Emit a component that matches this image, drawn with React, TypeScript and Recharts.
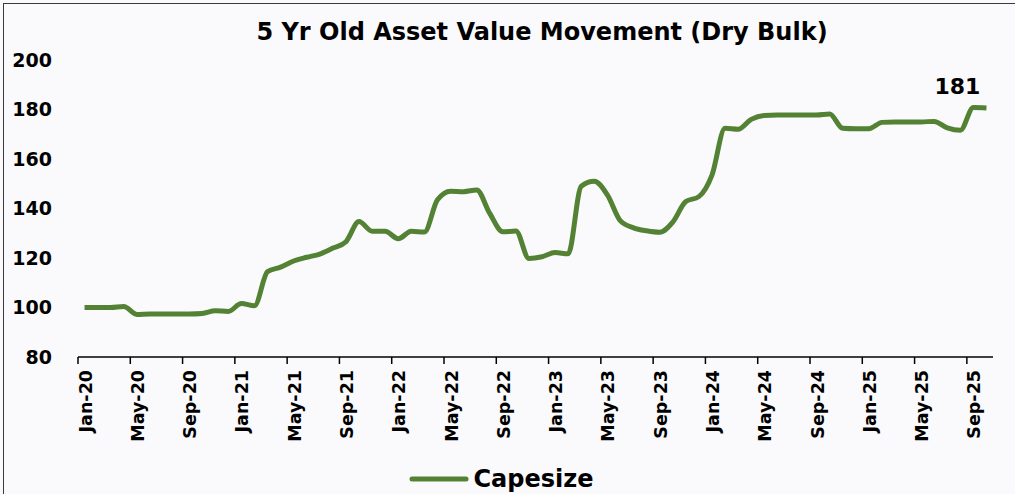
import { LineChart, Line, XAxis, YAxis, Legend } from 'recharts';

const MONTHS = [
  'Jan-20', 'Feb-20', 'Mar-20', 'Apr-20', 'May-20', 'Jun-20', 'Jul-20', 'Aug-20', 'Sep-20', 'Oct-20', 'Nov-20', 'Dec-20',
  'Jan-21', 'Feb-21', 'Mar-21', 'Apr-21', 'May-21', 'Jun-21', 'Jul-21', 'Aug-21', 'Sep-21', 'Oct-21', 'Nov-21', 'Dec-21',
  'Jan-22', 'Feb-22', 'Mar-22', 'Apr-22', 'May-22', 'Jun-22', 'Jul-22', 'Aug-22', 'Sep-22', 'Oct-22', 'Nov-22', 'Dec-22',
  'Jan-23', 'Feb-23', 'Mar-23', 'Apr-23', 'May-23', 'Jun-23', 'Jul-23', 'Aug-23', 'Sep-23', 'Oct-23', 'Nov-23', 'Dec-23',
  'Jan-24', 'Feb-24', 'Mar-24', 'Apr-24', 'May-24', 'Jun-24', 'Jul-24', 'Aug-24', 'Sep-24', 'Oct-24', 'Nov-24', 'Dec-24',
  'Jan-25', 'Feb-25', 'Mar-25', 'Apr-25', 'May-25', 'Jun-25', 'Jul-25', 'Aug-25', 'Sep-25', 'Oct-25',
];

const CAPESIZE = [
  100, 100, 100, 100.4, 97.2, 97.4, 97.4, 97.4, 97.4, 97.6, 98.7, 98.4,
  101.6, 100.7, 114.5, 116.3, 118.8, 120.3, 121.6, 124, 126.6, 134.7, 130.8, 130.8,
  127.8, 130.8, 130.5, 143.5, 147, 146.8, 147.5, 138, 130.6, 130.9, 119.8, 120.5,
  122.2, 121.7, 149, 151, 145.5, 135, 132.2, 131, 130.4, 134.5, 142.8, 144.8,
  153.5, 172.4, 172, 176, 177.6, 177.8, 177.8, 177.8, 177.8, 178.2, 172.4, 172.2,
  172.2, 174.8, 175, 175, 175, 175.2, 172.6, 171.6, 180.8, 180.6,
];

const Y_TICKS = [80, 100, 120, 140, 160, 180, 200];
const LABEL_STEP = 4;

const WIDTH = 1015;
const HEIGHT = 494;
const MARGIN = { top: 60, right: 22, left: 0, bottom: 0 };
const Y_AXIS_W = 78;
const PLOT_W = WIDTH - MARGIN.left - MARGIN.right - Y_AXIS_W;
const HALF_CAT = PLOT_W / MONTHS.length / 2;

const FONT = '"DejaVu Sans", sans-serif';
const GREEN = '#548235';

const data = MONTHS.map((m, i) => ({ i, month: m, capesize: CAPESIZE[i] }));
const xTicks = MONTHS.map((_, i) => i).filter((i) => i % LABEL_STEP === 0);

function MonthTick(props: any) {
  const { x, y, payload } = props;
  // excel style: tick mark on the category boundary, label on the category
  return (
    <g>
      <line x1={x - HALF_CAT} x2={x - HALF_CAT} y1={y} y2={y + 7} stroke="#000" strokeWidth={1.5} />
      <text
        transform={`translate(${x + 1},${y + 13}) rotate(-90)`}
        textAnchor="end"
        dominantBaseline="central"
        fontFamily={FONT}
        fontWeight="bold"
        fontSize={17.5}
        fill="#000"
      >
        {MONTHS[payload.value]}
      </text>
    </g>
  );
}

function LastLabel(props: any) {
  const { x, y, index, value } = props;
  if (index !== CAPESIZE.length - 1) return null;
  return (
    <text x={x - 29} y={y - 14} textAnchor="middle" fontFamily={FONT} fontWeight="bold" fontSize={22} fill="#000">
      {Math.round(value)}
    </text>
  );
}

function LegendContent() {
  return (
    <div style={{ display: 'flex', justifyContent: 'center', alignItems: 'center', paddingTop: 11, paddingLeft: 10 }}>
      <svg width={60} height={10} style={{ marginRight: 4 }}>
        <line x1={3} x2={57} y1={5} y2={5} stroke={GREEN} strokeWidth={5} strokeLinecap="round" />
      </svg>
      <span style={{ fontFamily: FONT, fontWeight: 'bold', fontSize: 24, color: '#000' }}>Capesize</span>
    </div>
  );
}

export default function App() {
  return (
    <div style={{ position: 'absolute', left: 0, top: 0, width: WIDTH, height: HEIGHT, background: '#fafafc', overflow: 'hidden' }}>
      <div
        style={{
          position: 'absolute',
          left: 3,
          top: 3,
          width: WIDTH + 20,
          height: HEIGHT + 20,
          borderLeft: '1.5px solid #3a3a3a',
          borderTop: '1.5px solid #3a3a3a',
        }}
      />
      <div
        style={{
          position: 'absolute',
          left: 542,
          top: 18,
          transform: 'translateX(-50%)',
          whiteSpace: 'nowrap',
          fontFamily: FONT,
          fontWeight: 'bold',
          fontSize: 24,
          color: '#000',
        }}
      >
        5 Yr Old Asset Value Movement (Dry Bulk)
      </div>
      <div style={{ position: 'absolute', left: 0, top: 0 }}>
        <LineChart width={WIDTH} height={HEIGHT} data={data} margin={MARGIN}>
          <XAxis
            dataKey="i"
            type="number"
            domain={[-0.5, MONTHS.length - 0.5]}
            ticks={xTicks}
            interval={0}
            height={97}
            tickLine={false}
            tickSize={0}
            tickMargin={0}
            axisLine={{ stroke: '#000', strokeWidth: 1.5 }}
            tick={<MonthTick />}
          />
          <YAxis
            domain={[80, 200]}
            ticks={Y_TICKS}
            width={Y_AXIS_W}
            axisLine={false}
            tickLine={false}
            tickSize={0}
            tickMargin={26}
            tick={{ fontFamily: FONT, fontWeight: 'bold', fontSize: 19, fill: '#000' }}
          />
          <Legend verticalAlign="bottom" height={40} content={<LegendContent />} />
          <Line
            dataKey="capesize"
            name="Capesize"
            type="monotone"
            stroke={GREEN}
            strokeWidth={5}
            dot={false}
            activeDot={false}
            label={<LastLabel />}
            isAnimationActive={false}
          />
        </LineChart>
      </div>
    </div>
  );
}
